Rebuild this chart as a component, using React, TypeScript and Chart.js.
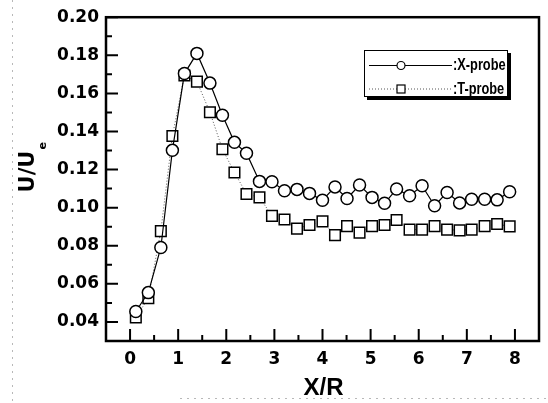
import React, { useEffect, useRef } from 'react';
import { Chart, registerables } from 'chart.js';

Chart.register(...registerables);

// ---- data ----
const xPositions = [0.12, 0.38, 0.64, 0.88, 1.13, 1.39, 1.66, 1.92, 2.17, 2.42, 2.69, 2.95, 3.21, 3.47, 3.73, 4.0, 4.26, 4.51, 4.77, 5.03, 5.29, 5.54, 5.81, 6.07, 6.33, 6.59, 6.85, 7.1, 7.37, 7.63, 7.89];
const xProbeValues = [0.0455, 0.0554, 0.0791, 0.1301, 0.1704, 0.181, 0.1654, 0.1485, 0.1343, 0.1286, 0.1138, 0.1136, 0.1089, 0.1096, 0.1075, 0.1039, 0.1109, 0.1048, 0.1119, 0.1054, 0.1023, 0.1098, 0.1063, 0.1115, 0.101, 0.108, 0.1025, 0.1044, 0.1044, 0.1041, 0.1084];
const tProbeValues = [0.0424, 0.0525, 0.0877, 0.1376, 0.1694, 0.1662, 0.1501, 0.1307, 0.1185, 0.1072, 0.1054, 0.0957, 0.0938, 0.089, 0.0909, 0.0928, 0.0856, 0.0903, 0.0869, 0.0903, 0.0909, 0.0935, 0.0885, 0.0885, 0.0903, 0.0885, 0.0881, 0.0885, 0.0903, 0.0914, 0.0902];
const seriesNames = [':X-probe', ':T-probe'];

const xTickValues = [0, 1, 2, 3, 4, 5, 6, 7, 8];
const xTickLabels = ['0', '1', '2', '3', '4', '5', '6', '7', '8'];
const xMinorTicks = [0.5, 1.5, 2.5, 3.5, 4.5, 5.5, 6.5, 7.5];
const yTickValues = [0.04, 0.06, 0.08, 0.1, 0.12, 0.14, 0.16, 0.18, 0.2];
const yTickLabels = ['0.04', '0.06', '0.08', '0.10', '0.12', '0.14', '0.16', '0.18', '0.20'];
const yMinorTicks = [0.05, 0.07, 0.09, 0.11, 0.13, 0.15, 0.17, 0.19];
const xRange = [-0.5, 8.5];
const yRange = [0.03, 0.2];
const xTitle = 'X/R';
const yTitleMain = 'U/U';
const yTitleSub = 'e';

const decorPlugin = {
  id: 'decor',
  afterDraw(chart: any) {
    const ctx: CanvasRenderingContext2D = chart.ctx;
    const { left, right, top, bottom } = chart.chartArea;
    const xs = chart.scales.x;
    const ys = chart.scales.y;
    ctx.save();

    // scan artifacts (faint dotted lines)
    ctx.strokeStyle = '#b8b8b8';
    ctx.lineWidth = 1;
    ctx.setLineDash([2, 5]);
    ctx.beginPath();
    ctx.moveTo(12.5, 0);
    ctx.lineTo(12.5, 403);
    ctx.moveTo(180, 398.5);
    ctx.lineTo(548, 398.5);
    ctx.stroke();
    ctx.setLineDash([]);

    // inward ticks
    ctx.strokeStyle = '#000';
    ctx.lineWidth = 2;
    ctx.beginPath();
    xTickValues.forEach((v) => {
      const p = xs.getPixelForValue(v);
      ctx.moveTo(p, bottom);
      ctx.lineTo(p, bottom - 12);
    });
    xMinorTicks.forEach((v) => {
      const p = xs.getPixelForValue(v);
      ctx.moveTo(p, bottom);
      ctx.lineTo(p, bottom - 6);
    });
    yTickValues.forEach((v) => {
      const p = ys.getPixelForValue(v);
      ctx.moveTo(left, p);
      ctx.lineTo(left + 12, p);
    });
    yMinorTicks.forEach((v) => {
      const p = ys.getPixelForValue(v);
      ctx.moveTo(left, p);
      ctx.lineTo(left + 6, p);
    });
    ctx.stroke();

    // frame
    ctx.lineWidth = 2.5;
    ctx.strokeRect(left, top, right - left, bottom - top);

    // x title
    ctx.fillStyle = '#000';
    ctx.font = 'bold 24px "Liberation Sans", Arial, sans-serif';
    ctx.textAlign = 'center';
    ctx.textBaseline = 'alphabetic';
    ctx.fillText(xTitle, (left + right) / 2 + 1, 395);

    // y title (rotated, with subscript)
    ctx.save();
    ctx.translate(34, 171.5);
    ctx.rotate(-Math.PI / 2);
    ctx.font = 'bold 21px "DejaVu Sans", sans-serif';
    const w = ctx.measureText(yTitleMain).width;
    ctx.textAlign = 'left';
    ctx.fillText(yTitleMain, -w / 2, 0);
    ctx.font = 'bold 11px "DejaVu Sans", sans-serif';
    ctx.fillText(yTitleSub, w / 2 + 1, 12);
    ctx.restore();

    // legend
    const bx = 364, by = 50, bw = 144, bh = 47;
    ctx.fillStyle = '#000';
    ctx.fillRect(bx + 3, by + 3, bw, bh);
    ctx.fillStyle = '#fff';
    ctx.fillRect(bx, by, bw, bh);
    ctx.strokeStyle = '#000';
    ctx.lineWidth = 1;
    ctx.strokeRect(bx + 0.5, by + 0.5, bw - 1, bh - 1);

    const rows = [65.5, 89];
    // row 1: solid line + circle
    ctx.beginPath();
    ctx.moveTo(369, rows[0]);
    ctx.lineTo(452, rows[0]);
    ctx.stroke();
    ctx.beginPath();
    ctx.arc(401, rows[0], 4, 0, Math.PI * 2);
    ctx.fillStyle = '#fff';
    ctx.fill();
    ctx.lineWidth = 1.2;
    ctx.stroke();
    // row 2: dotted line + square
    ctx.strokeStyle = '#555';
    ctx.lineWidth = 1;
    ctx.setLineDash([1, 2]);
    ctx.beginPath();
    ctx.moveTo(369, rows[1]);
    ctx.lineTo(452, rows[1]);
    ctx.stroke();
    ctx.setLineDash([]);
    ctx.strokeStyle = '#000';
    ctx.lineWidth = 1.2;
    ctx.fillStyle = '#fff';
    ctx.fillRect(397, rows[1] - 4, 8, 8);
    ctx.strokeRect(397, rows[1] - 4, 8, 8);

    ctx.fillStyle = '#000';
    ctx.font = 'bold 16px "Liberation Sans", Arial, sans-serif';
    ctx.textAlign = 'left';
    ctx.textBaseline = 'middle';
    rows.forEach((ry, i) => {
      ctx.save();
      ctx.translate(453, ry + 0.5);
      ctx.scale(0.8, 1);
      ctx.fillText(seriesNames[i], 0, 0);
      ctx.restore();
    });

    ctx.restore();
  },
};

export default function App() {
  const canvasRef = useRef<HTMLCanvasElement | null>(null);

  useEffect(() => {
    if (!canvasRef.current) return;
    const tickFont = { family: '"DejaVu Sans", sans-serif', size: 17, weight: 'bold' as const };
    const chart = new Chart(canvasRef.current, {
      type: 'scatter',
      data: {
        datasets: [
          {
            label: seriesNames[0],
            data: xPositions.map((x, i) => ({ x, y: xProbeValues[i] })),
            showLine: true,
            borderColor: '#000',
            borderWidth: 1.2,
            pointStyle: 'circle',
            pointRadius: 6,
            pointBorderWidth: 1.5,
            pointBackgroundColor: '#fff',
            pointBorderColor: '#000',
          },
          {
            label: seriesNames[1],
            data: xPositions.map((x, i) => ({ x, y: tProbeValues[i] })),
            showLine: true,
            borderColor: '#555',
            borderWidth: 1,
            borderDash: [1, 2],
            pointStyle: 'rect',
            pointRadius: 7.5,
            pointBorderWidth: 1.5,
            pointBackgroundColor: '#fff',
            pointBorderColor: '#000',
          },
        ],
      },
      options: {
        animation: false,
        responsive: false,
        maintainAspectRatio: false,
        devicePixelRatio: 1,
        layout: { padding: { top: 15, right: 6.5, left: 0, bottom: 0 } },
        plugins: { legend: { display: false }, tooltip: { enabled: false }, title: { display: false } },
        scales: {
          x: {
            type: 'linear',
            min: xRange[0],
            max: xRange[1],
            grid: { display: false, drawTicks: false },
            border: { display: false },
            afterBuildTicks: (scale: any) => {
              scale.ticks = xTickValues.map((v) => ({ value: v }));
            },
            afterFit: (scale: any) => {
              scale.height = 62;
            },
            ticks: {
              autoSkip: false,
              maxRotation: 0,
              padding: 8,
              color: '#000',
              font: tickFont,
              callback: (v: any) => {
                const i = xTickValues.indexOf(Number(v));
                return i >= 0 ? xTickLabels[i] : '';
              },
            },
          },
          y: {
            type: 'linear',
            min: yRange[0],
            max: yRange[1],
            grid: { display: false, drawTicks: false },
            border: { display: false },
            afterBuildTicks: (scale: any) => {
              scale.ticks = yTickValues.map((v) => ({ value: v }));
            },
            afterFit: (scale: any) => {
              scale.width = 106;
            },
            ticks: {
              autoSkip: false,
              padding: 7,
              color: '#000',
              font: tickFont,
              callback: (v: any) => {
                const i = yTickValues.findIndex((t) => Math.abs(t - Number(v)) < 1e-6);
                return i >= 0 ? yTickLabels[i] : '';
              },
            },
          },
        },
      },
      plugins: [decorPlugin],
    } as any);
    return () => chart.destroy();
  }, []);

  return (
    <div style={{ position: 'absolute', left: 0, top: 0, width: 548, height: 403, background: '#fff' }}>
      <canvas ref={canvasRef} width={548} height={403} style={{ display: 'block' }} />
    </div>
  );
}
